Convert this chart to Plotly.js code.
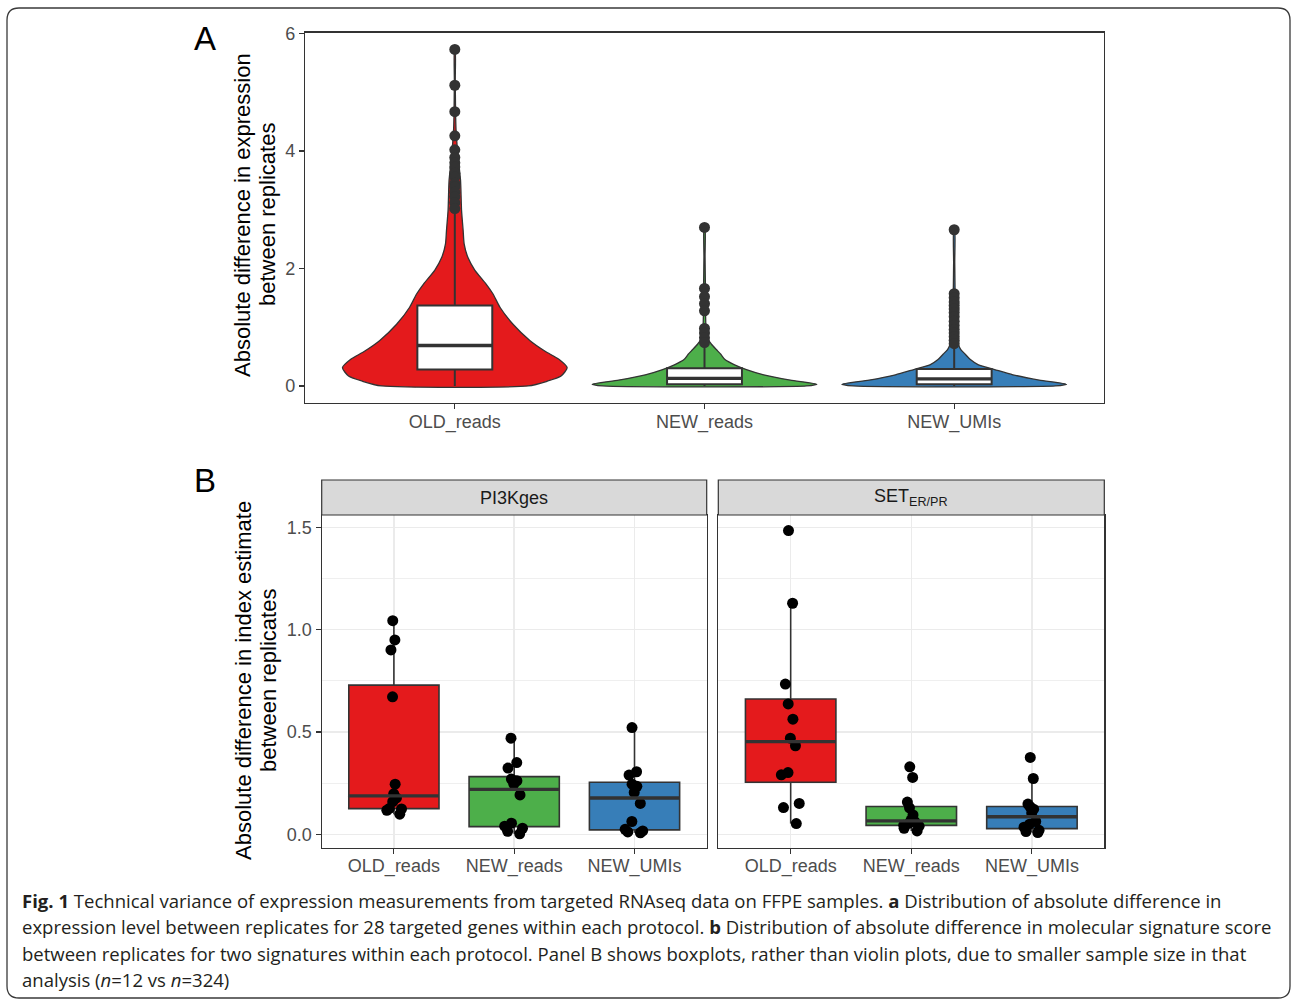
<!DOCTYPE html>
<html>
<head>
<meta charset="utf-8">
<script src="https://cdn.plot.ly/plotly-3.0.1.min.js"></script>
<style>
html,body{margin:0;padding:0;background:#ffffff;}
#chart{width:1292px;height:1000px;}
</style>
</head>
<body>
<div id="chart"></div>
<script>
// ---------------- DATA ----------------
const groups = ['OLD_reads', 'NEW_reads', 'NEW_UMIs'];
const groupColors = ['#E41A1C', '#4DAF4A', '#377EB8'];

// Panel A: violin outlines (value level, relative density)
const violinOldLevels   = [0.00, 0.08, 0.17, 0.31, 0.45, 0.59, 0.77, 1.05, 1.34, 1.57, 1.74, 1.97, 2.19, 2.42, 2.65, 2.99, 3.50, 3.90, 4.36, 4.64, 5.20, 5.73];
const violinOldDensity  = [0.652, 0.821, 0.946, 1.000, 0.929, 0.804, 0.670, 0.518, 0.402, 0.339, 0.277, 0.179, 0.116, 0.083, 0.074, 0.060, 0.051, 0.029, 0.011, 0.007, 0.004, 0.003];
const violinNewReadsLevels  = [0.00, 0.03, 0.10, 0.19, 0.28, 0.36, 0.45, 0.54, 0.62, 0.71, 0.80, 0.97, 1.30, 1.70, 2.20, 2.70];
const violinNewReadsDensity = [0.909, 1.000, 0.764, 0.527, 0.373, 0.268, 0.182, 0.145, 0.105, 0.062, 0.031, 0.014, 0.009, 0.008, 0.005, 0.004];
const violinNewUMIsLevels   = [0.00, 0.03, 0.10, 0.19, 0.28, 0.36, 0.45, 0.54, 0.62, 0.71, 0.85, 1.20, 1.60, 2.10, 2.66];
const violinNewUMIsDensity  = [0.901, 1.000, 0.757, 0.523, 0.360, 0.216, 0.144, 0.099, 0.059, 0.036, 0.018, 0.011, 0.008, 0.005, 0.004];

// Panel A: box statistics
const boxAq1     = [0.28, 0.03, 0.03];
const boxAmedian = [0.69, 0.13, 0.12];
const boxAq3     = [1.37, 0.30, 0.29];
const boxAlower  = [0.00, 0.00, 0.00];
const boxAupper  = [2.99, 0.69, 0.68];

// Panel A: outliers
const outliersOld      = [5.73, 5.12, 4.67, 4.26, 4.02, 3.89, 3.80, 3.73, 3.62, 3.56, 3.45, 3.39, 3.30, 3.22, 3.12, 3.02];
const outliersNewReads = [2.70, 1.66, 1.52, 1.40, 1.28, 0.98, 0.90, 0.82, 0.74];
const outliersNewUMIs  = [2.66, 1.57, 1.50, 1.43, 1.37, 1.31, 1.25, 1.18, 1.10, 1.03, 0.96, 0.90, 0.84, 0.78, 0.72];

// Panel B: facets
const facets = ['PI3Kges', 'SET<sub>ER/PR</sub>'];
const pi3kOld      = [1.044, 0.950, 0.901, 0.672, 0.245, 0.198, 0.178, 0.160, 0.127, 0.124, 0.118, 0.099];
const pi3kNewReads = [0.470, 0.351, 0.324, 0.270, 0.262, 0.245, 0.193, 0.055, 0.040, 0.030, 0.015, 0.003];
const pi3kNewUMIs  = [0.522, 0.306, 0.290, 0.245, 0.235, 0.205, 0.151, 0.063, 0.025, 0.017, 0.012, 0.008];
const setOld       = [1.484, 1.129, 0.734, 0.637, 0.563, 0.470, 0.433, 0.302, 0.291, 0.151, 0.131, 0.053];
const setNewReads  = [0.330, 0.278, 0.158, 0.130, 0.095, 0.070, 0.062, 0.055, 0.045, 0.040, 0.030, 0.017];
const setNewUMIs   = [0.376, 0.273, 0.148, 0.135, 0.123, 0.105, 0.063, 0.050, 0.035, 0.020, 0.014, 0.009];

const pi3kQ1     = [0.126, 0.038, 0.022];
const pi3kMedian = [0.188, 0.220, 0.178];
const pi3kQ3     = [0.729, 0.282, 0.255];
const pi3kLower  = [0.099, 0.003, 0.008];
const pi3kUpper  = [1.044, 0.470, 0.522];
const setQ1      = [0.255, 0.044, 0.028];
const setMedian  = [0.453, 0.066, 0.086];
const setQ3      = [0.661, 0.136, 0.136];
const setLower   = [0.053, 0.017, 0.009];
const setUpper   = [1.129, 0.158, 0.273];

const tickA = [0, 2, 4, 6];
const tickB = [0, 0.5, 1, 1.5];
const tickBLabels = ['0.0', '0.5', '1.0', '1.5'];
const minorB = [0.25, 0.75, 1.25];

const yTitleA = ['Absolute difference in expression', 'between replicates'];
const yTitleB = ['Absolute difference in index estimate', 'between replicates'];
const captionLines = [
  '<b>Fig. 1</b> Technical variance of expression measurements from targeted RNAseq data on FFPE samples. <b>a</b> Distribution of absolute difference in',
  'expression level between replicates for 28 targeted genes within each protocol. <b>b</b> Distribution of absolute difference in molecular signature score',
  'between replicates for two signatures within each protocol. Panel B shows boxplots, rather than violin plots, due to smaller sample size in that',
  'analysis (<i>n</i>=12 vs <i>n</i>=324)'
];

// ---------------- STYLE / LAYOUT HELPERS ----------------
const W = 1292, H = 1000;
const px = v => v / W;
const py = v => 1 - v / H;
const FONT = 'Liberation Sans, Arial, sans-serif';
const DARK = '#333333';
const violinHalf = 0.45;   // max half-width in category units
const boxWidthA = 0.3;
const boxWidthB = 0.75;
const rangeAx = [0.4, 3.6];
const rangeAy = [-0.2865, 6.0165];

const traces = [];

// Violins (base subplot x/y)
const violinLevels = [violinOldLevels, violinNewReadsLevels, violinNewUMIsLevels];
const violinDens = [violinOldDensity, violinNewReadsDensity, violinNewUMIsDensity];
groups.forEach((g, i) => {
  const c = i + 1;
  const lv = violinLevels[i], dn = violinDens[i];
  const xs = [], ys = [];
  for (let k = 0; k < lv.length; k++) { xs.push(c + violinHalf * dn[k]); ys.push(lv[k]); }
  for (let k = lv.length - 1; k >= 0; k--) { xs.push(c - violinHalf * dn[k]); ys.push(lv[k]); }
  xs.push(xs[0]); ys.push(ys[0]);
  traces.push({
    type: 'scatter', mode: 'lines', x: xs, y: ys, xaxis: 'x', yaxis: 'y',
    fill: 'toself', fillcolor: groupColors[i],
    line: {color: DARK, width: 1.3, shape: 'spline', smoothing: 0.6},
    hoverinfo: 'skip', showlegend: false
  });
});

// Panel A boxes (overlay subplot x4/y4, drawn above violins)
traces.push({
  type: 'box', xaxis: 'x4', yaxis: 'y4',
  x: [1, 2, 3], q1: boxAq1, median: boxAmedian, q3: boxAq3,
  lowerfence: boxAlower, upperfence: boxAupper,
  width: boxWidthA, whiskerwidth: 0, boxpoints: false,
  fillcolor: '#ffffff', line: {color: DARK, width: 2},
  hoverinfo: 'skip', showlegend: false
});
groups.forEach((g, i) => {
  traces.push({
    type: 'scatter', mode: 'lines', xaxis: 'x4', yaxis: 'y4',
    x: [i + 1 - boxWidthA / 2, i + 1 + boxWidthA / 2], y: [boxAmedian[i], boxAmedian[i]],
    line: {color: DARK, width: 3.4}, hoverinfo: 'skip', showlegend: false
  });
});
[outliersOld, outliersNewReads, outliersNewUMIs].forEach((arr, i) => {
  traces.push({
    type: 'scatter', mode: 'markers', xaxis: 'x4', yaxis: 'y4',
    x: arr.map(() => i + 1), y: arr,
    marker: {color: DARK, size: 11},
    hoverinfo: 'skip', showlegend: false
  });
});

// Panel B
const facetData = [
  {vals: [pi3kOld, pi3kNewReads, pi3kNewUMIs], q1: pi3kQ1, med: pi3kMedian, q3: pi3kQ3, lo: pi3kLower, up: pi3kUpper, xa: 'x2', ya: 'y2'},
  {vals: [setOld, setNewReads, setNewUMIs], q1: setQ1, med: setMedian, q3: setQ3, lo: setLower, up: setUpper, xa: 'x3', ya: 'y3'}
];
facetData.forEach(f => {
  groups.forEach((g, i) => {
    traces.push({
      type: 'box', xaxis: f.xa, yaxis: f.ya,
      x: [i + 1], q1: [f.q1[i]], median: [f.med[i]], q3: [f.q3[i]],
      lowerfence: [f.lo[i]], upperfence: [f.up[i]],
      width: boxWidthB, whiskerwidth: 0, boxpoints: false,
      fillcolor: groupColors[i], line: {color: DARK, width: 1.6},
      hoverinfo: 'skip', showlegend: false
    });
    traces.push({
      type: 'scatter', mode: 'lines', xaxis: f.xa, yaxis: f.ya,
      x: [i + 1 - boxWidthB / 2, i + 1 + boxWidthB / 2], y: [f.med[i], f.med[i]],
      line: {color: DARK, width: 3.4}, hoverinfo: 'skip', showlegend: false
    });
  });
  groups.forEach((g, i) => {
    traces.push({
      type: 'box', xaxis: f.xa, yaxis: f.ya,
      x: f.vals[i].map(() => i + 1), y: f.vals[i],
      width: boxWidthB, boxpoints: 'all', jitter: 0.25, pointpos: 0,
      fillcolor: 'rgba(0,0,0,0)', line: {color: 'rgba(0,0,0,0)', width: 0},
      marker: {color: '#000000', size: 11},
      hoverinfo: 'skip', showlegend: false
    });
  });
});

// ---------------- AXES ----------------
const tickFont = {family: FONT, size: 18, color: '#4D4D4D'};
const baseAxis = {
  showline: true, mirror: true, linecolor: DARK, linewidth: 1.2,
  ticks: 'outside', ticklen: 5, tickwidth: 1.1, tickcolor: DARK,
  zeroline: false, tickfont: tickFont, fixedrange: true
};
const catX = Object.assign({}, baseAxis, {
  range: rangeAx, tickmode: 'array', tickvals: [1, 2, 3], ticktext: groups, ticklabelstandoff: -3
});
const gridC = '#EBEBEB';

const layout = {
  width: W, height: H,
  margin: {l: 0, r: 0, t: 0, b: 0},
  paper_bgcolor: '#ffffff', plot_bgcolor: '#ffffff',
  showlegend: false, boxmode: 'overlay',
  xaxis: Object.assign({}, catX, {domain: [px(305), px(1104)], anchor: 'y', showgrid: false}),
  yaxis: Object.assign({}, baseAxis, {domain: [py(402.8), py(32.6)], anchor: 'x', range: rangeAy,
    tickmode: 'array', tickvals: tickA, showgrid: false}),
  xaxis4: {overlaying: 'x', anchor: 'y4', range: rangeAx, visible: false, fixedrange: true},
  yaxis4: {overlaying: 'y', anchor: 'x4', range: rangeAy, visible: false, fixedrange: true},
  xaxis2: Object.assign({}, catX, {domain: [px(321.7), px(706.7)], anchor: 'y2', showgrid: true, gridcolor: gridC, gridwidth: 1.5}),
  yaxis2: Object.assign({}, baseAxis, {domain: [py(847.5), py(515)], anchor: 'x2', range: [-0.064, 1.560],
    tickmode: 'array', tickvals: tickB, ticktext: tickBLabels, showgrid: true, gridcolor: gridC, gridwidth: 1.5,
    minor: {tickmode: 'array', tickvals: minorB, showgrid: true, gridcolor: gridC, gridwidth: 0.8, ticks: ''}}),
  xaxis3: Object.assign({}, catX, {domain: [px(718.3), px(1104.3)], anchor: 'y3', showgrid: true, gridcolor: gridC, gridwidth: 1.5}),
  yaxis3: Object.assign({}, baseAxis, {domain: [py(847.5), py(515)], anchor: 'x3', range: [-0.064, 1.560],
    tickmode: 'array', tickvals: tickB, ticktext: tickBLabels, showticklabels: false, ticks: '', showgrid: true, gridcolor: gridC, gridwidth: 1.5,
    minor: {tickmode: 'array', tickvals: minorB, showgrid: true, gridcolor: gridC, gridwidth: 0.8, ticks: ''}}),
  shapes: [],
  annotations: []
};

// Strips
const stripX = [[321.7, 706.7], [718.3, 1104.3]];
stripX.forEach((s, i) => {
  layout.shapes.push({type: 'rect', xref: 'paper', yref: 'paper', x0: px(s[0]), x1: px(s[1]), y0: py(515), y1: py(480),
    fillcolor: '#D9D9D9', line: {color: DARK, width: 1.2}, layer: 'above'});
  layout.annotations.push({xref: 'paper', yref: 'paper', x: px((s[0] + s[1]) / 2), y: py(497.5),
    xanchor: 'center', yanchor: 'middle', text: facets[i], showarrow: false,
    font: {family: FONT, size: 18, color: '#1A1A1A'}});
});

// Rounded border
(function () {
  const x0 = 7, x1 = 1290, y0 = 8, y1 = 998, r = 12;
  const P = (x, y) => px(x) + ',' + py(y);
  const path = 'M' + P(x0 + r, y0) + ' L' + P(x1 - r, y0) + ' Q' + P(x1, y0) + ' ' + P(x1, y0 + r) +
    ' L' + P(x1, y1 - r) + ' Q' + P(x1, y1) + ' ' + P(x1 - r, y1) +
    ' L' + P(x0 + r, y1) + ' Q' + P(x0, y1) + ' ' + P(x0, y1 - r) +
    ' L' + P(x0, y0 + r) + ' Q' + P(x0, y0) + ' ' + P(x0 + r, y0) + ' Z';
  layout.shapes.push({type: 'path', xref: 'paper', yref: 'paper', path: path, line: {color: '#3a3a3a', width: 1.3}});
})();

// Panel labels
layout.annotations.push({xref: 'paper', yref: 'paper', x: px(205), y: py(38), text: 'A', showarrow: false,
  xanchor: 'center', yanchor: 'middle', font: {family: FONT, size: 33, color: '#000000'}});
layout.annotations.push({xref: 'paper', yref: 'paper', x: px(205), y: py(480), text: 'B', showarrow: false,
  xanchor: 'center', yanchor: 'middle', font: {family: FONT, size: 33, color: '#000000'}});

// Y axis titles
const titleFont = {family: FONT, size: 22, color: '#000000'};
[[yTitleA, 215], [yTitleB, 681]].forEach(([lines, yc]) => {
  lines.forEach((t, j) => {
    layout.annotations.push({xref: 'paper', yref: 'paper', x: px(j === 0 ? 243 : 268), y: py(yc), text: t,
      textangle: -90, showarrow: false, xanchor: 'center', yanchor: 'middle', font: titleFont});
  });
});

// Caption
const capY = [900, 926, 953, 979];
captionLines.forEach((t, j) => {
  layout.annotations.push({xref: 'paper', yref: 'paper', x: px(20), y: py(capY[j]), text: t, showarrow: false,
    xanchor: 'left', yanchor: 'middle', align: 'left', font: {family: 'Open Sans, Noto Sans, sans-serif', size: 18.55, color: '#231F20'}});
});

Plotly.newPlot('chart', traces, layout, {displayModeBar: false, staticPlot: true});
</script>
</body>
</html>
